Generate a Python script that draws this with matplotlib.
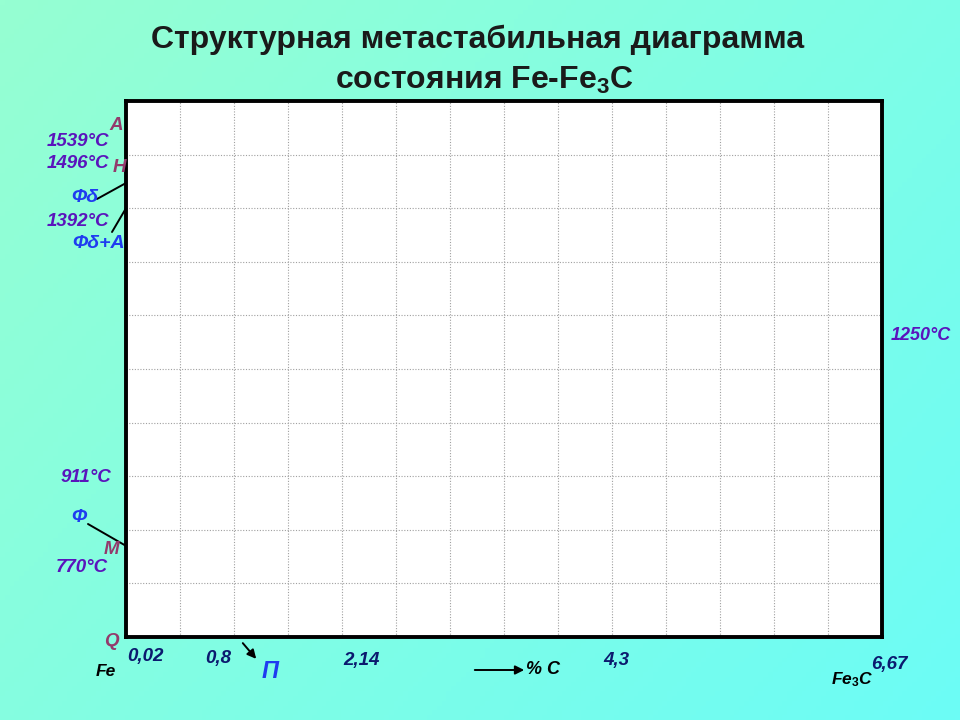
import numpy as np
import matplotlib
matplotlib.use("Agg")
import matplotlib.pyplot as plt
from matplotlib.patches import FancyArrowPatch

W, H = 960, 720
FAM = "Liberation Sans"

TITLE = ["Структурная метастабильная диаграмма", "состояния Fe-Fe$_{\\mathbf{3}}$C"]

# diagram range: % C along x, temperature along y
C_RANGE = (0.0, 7.0)
T_RANGE = (600, 1600)
C_STEP = 0.5
T_STEP = 100

# critical temperatures written at the left edge
temp_labels = ["1539°C", "1496°C", "1392°C", "911°C", "770°C"]
temp_pos = [(78, 142), (78, 163), (78, 221), (86, 478), (82, 568)]

# point letters
point_labels = ["A", "H", "M", "Q"]
point_pos = [(116, 126), (119, 167), (111, 549), (111, 641)]

# phase names with a leader line to the left edge (temperature it points at)
phase_labels = ["Фδ", "Фδ+А", "Ф"]
phase_pos = [(85, 197), (99, 244), (79, 518)]
phase_line_start = [(97, 199), (112, 232), (88, 524)]
phase_temp = [1447, 1400, 770]

# concentrations written under the axis
conc_labels = ["0,02", "0,8", "2,14", "4,3", "6,67"]
conc_pos = [(145, 657), (218, 658), (361, 660), (616, 660), (889, 664)]

TEMP_COLOR = "#5a14bc"
POINT_COLOR = "#933a6c"
PHASE_COLOR = "#1f3cf0"
CONC_COLOR = "#0b1a6e"

plt.rcParams["font.family"] = FAM
plt.rcParams["mathtext.fontset"] = "custom"
plt.rcParams["mathtext.rm"] = FAM + ":bold"
plt.rcParams["mathtext.bf"] = FAM + ":bold"
plt.rcParams["mathtext.it"] = FAM + ":italic:bold"


def fpx(x, y):
    return x / W, 1 - y / H


fig = plt.figure(figsize=(9.6, 7.2), dpi=100)

# background gradient
bg = fig.add_axes([0, 0, 1, 1], zorder=-10)
gx, gy = np.meshgrid(np.linspace(0, 1, 200), np.linspace(0, 1, 150))
t = (gx * 0.6 + gy * 0.4)
c0 = np.array([150, 255, 210]) / 255
c1 = np.array([108, 252, 246]) / 255
img = c0[None, None, :] * (1 - t[..., None]) + c1[None, None, :] * t[..., None]
bg.imshow(img, aspect="auto", extent=[0, 1, 0, 1])
bg.axis("off")

# title
fig.text(*fpx(478, 40), TITLE[0], ha="center", va="center", family=FAM,
         fontsize=23, weight="bold", color="#1a1a1a")
fig.text(*fpx(484, 80), TITLE[1], ha="center", va="center", family=FAM,
         fontsize=23, weight="bold", color="#1a1a1a")

# diagram field
ax = fig.add_axes([126 / W, 1 - 637 / H, 756 / W, 536 / H])
ax.set_facecolor("white")
ax.set_xlim(*C_RANGE)
ax.set_ylim(*T_RANGE)
ax.set_xticks(np.arange(C_RANGE[0], C_RANGE[1] + 0.01, C_STEP))
ax.set_yticks(np.arange(T_RANGE[0], T_RANGE[1] + 1, T_STEP))
ax.tick_params(length=0, labelbottom=False, labelleft=False)
ax.grid(True, linestyle=(0, (1, 1.5)), color="#a0a0a0", linewidth=0.8)
for s in ax.spines.values():
    s.set_linewidth(2.8)
    s.set_color("black")

lbl = dict(ha="center", va="center", family=FAM, style="italic", weight="bold")

for s, (x, y) in zip(temp_labels, temp_pos):
    fig.text(*fpx(x, y), s, color=TEMP_COLOR, fontsize=13.5, **lbl)
fig.text(*fpx(921, 335), "1250°C", color=TEMP_COLOR, fontsize=13, **lbl)

for s, (x, y) in zip(point_labels, point_pos):
    fig.text(*fpx(x, y), s, color=POINT_COLOR, fontsize=13.5, **lbl)

for s, (x, y), (lx, ly), T in zip(phase_labels, phase_pos, phase_line_start, phase_temp):
    fig.text(*fpx(x, y), s, color=PHASE_COLOR, fontsize=14, **lbl)
    ax.annotate("", xy=(C_RANGE[0], T), xycoords="data",
                xytext=fpx(lx, ly), textcoords="figure fraction",
                arrowprops=dict(arrowstyle="-", color="black", lw=1.4,
                                shrinkA=0, shrinkB=0))

for s, (x, y) in zip(conc_labels, conc_pos):
    fig.text(*fpx(x, y), s, color=CONC_COLOR, fontsize=13.5, **lbl)

fig.text(*fpx(106, 672), "Fe", color="black", fontsize=12.5, **lbl)
fig.text(*fpx(852, 680), "Fe$_{\\mathit{3}}$C", color="black", fontsize=12.5, **lbl)

# pearlite arrow
fig.text(*fpx(270, 672), "П", color=PHASE_COLOR, fontsize=17, **lbl)
fig.add_artist(FancyArrowPatch(
    fpx(241, 641), fpx(258, 661), transform=fig.transFigure,
    arrowstyle="-|>", mutation_scale=13, color="black", lw=1.4))

# % C arrow
fig.add_artist(FancyArrowPatch(
    fpx(472, 670), fpx(527, 670), transform=fig.transFigure,
    arrowstyle="-|>", mutation_scale=13, color="black", lw=1.4))
fig.text(*fpx(543, 670), "% C", color="black", fontsize=13, **lbl)

fig.savefig("out.png", dpi=100)
